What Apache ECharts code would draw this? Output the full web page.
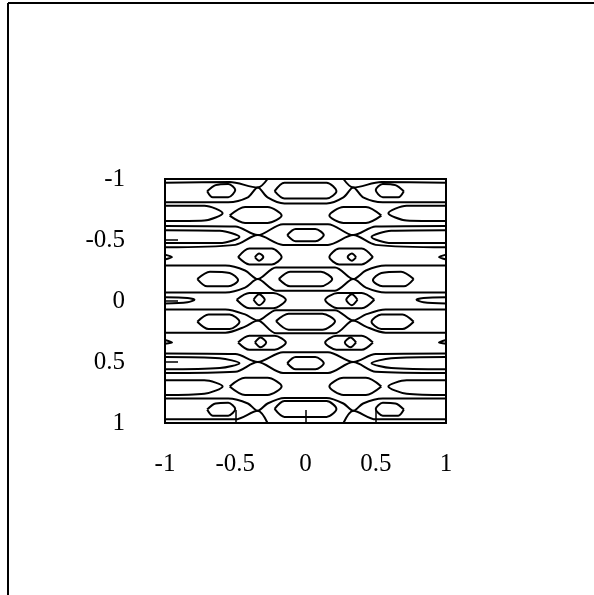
<!DOCTYPE html>
<html><head><meta charset="utf-8">
<script src="https://cdn.jsdelivr.net/npm/echarts@6/dist/echarts.min.js"></script>
<style>html,body{margin:0;padding:0;background:#fff}#c{width:594px;height:595px}</style>
</head><body><div id="c"></div>
<script>
const xTicks = [-1, -0.5, 0, 0.5, 1];
const yTicks = [-1, -0.5, 0, 0.5, 1];
// contour polylines, [x, y] in data units (y grows downward)
const row1Lines = [
  [[-1,-0.97],[-0.54,-0.975],[-0.34,-0.93],[-0.27,-1.0]],
  [[0.27,-1.0],[0.34,-0.93],[0.54,-0.975],[1,-0.97]],
  [[-1,-0.81],[-0.55,-0.81],[-0.41,-0.85],[-0.34,-0.93],[-0.27,-0.85],[-0.15,-0.80],[0.15,-0.80],[0.27,-0.85],[0.34,-0.93],[0.41,-0.85],[0.55,-0.81],[1,-0.81]],
  [[-0.22,-0.90],[-0.15,-0.97],[0.15,-0.97],[0.22,-0.90],[0.15,-0.84],[-0.15,-0.84],[-0.22,-0.90]],
  [[-0.70,-0.90],[-0.64,-0.95],[-0.55,-0.96],[-0.50,-0.91],[-0.55,-0.85],[-0.66,-0.85],[-0.70,-0.90]],
  [[0.70,-0.90],[0.64,-0.95],[0.55,-0.96],[0.50,-0.91],[0.55,-0.85],[0.66,-0.85],[0.70,-0.90]]
];
const row2Lines = [
  [[-1,-0.78],[-0.72,-0.78],[-0.59,-0.72],[-0.72,-0.66],[-1,-0.655]],
  [[1,-0.78],[0.72,-0.78],[0.59,-0.72],[0.72,-0.66],[1,-0.655]],
  [[-0.54,-0.70],[-0.43,-0.77],[-0.27,-0.77],[-0.17,-0.70],[-0.27,-0.64],[-0.43,-0.64],[-0.54,-0.70]],
  [[0.54,-0.70],[0.43,-0.77],[0.27,-0.77],[0.17,-0.70],[0.27,-0.64],[0.43,-0.64],[0.54,-0.70]]
];
const row3Lines = [
  [[-1,-0.615],[-0.50,-0.61],[-0.34,-0.54],[-0.16,-0.63],[0.16,-0.63],[0.34,-0.54],[0.50,-0.61],[1,-0.615]],
  [[-1,-0.44],[-0.50,-0.46],[-0.34,-0.54],[-0.16,-0.46],[0.16,-0.46],[0.34,-0.54],[0.50,-0.46],[1,-0.44]],
  [[-0.13,-0.54],[-0.07,-0.59],[0.07,-0.59],[0.13,-0.54],[0.07,-0.49],[-0.07,-0.49],[-0.13,-0.54]],
  [[-1,-0.58],[-0.61,-0.575],[-0.47,-0.525],[-0.61,-0.475],[-1,-0.475]],
  [[1,-0.58],[0.61,-0.575],[0.47,-0.525],[0.61,-0.475],[1,-0.475]]
];
const row4Lines = [
  [[-1,-0.38],[-0.95,-0.36],[-1,-0.34]],
  [[1,-0.38],[0.95,-0.36],[1,-0.34]],
  [[-0.48,-0.36],[-0.40,-0.43],[-0.24,-0.43],[-0.17,-0.36],[-0.24,-0.30],[-0.40,-0.30],[-0.48,-0.36]],
  [[0.48,-0.36],[0.40,-0.43],[0.24,-0.43],[0.17,-0.36],[0.24,-0.30],[0.40,-0.30],[0.48,-0.36]],
  [[-0.36,-0.36],[-0.33,-0.39],[-0.30,-0.36],[-0.33,-0.33],[-0.36,-0.36]],
  [[0.36,-0.36],[0.33,-0.39],[0.30,-0.36],[0.33,-0.33],[0.36,-0.36]]
];
const row5Lines = [
  [[-1,-0.29],[-0.57,-0.29],[-0.43,-0.25],[-0.34,-0.18],[-0.21,-0.275],[0.21,-0.275],[0.34,-0.18],[0.43,-0.25],[0.57,-0.29],[1,-0.29]],
  [[-1,-0.07],[-0.57,-0.07],[-0.43,-0.11],[-0.34,-0.18],[-0.21,-0.085],[0.21,-0.085],[0.34,-0.18],[0.43,-0.11],[0.57,-0.07],[1,-0.07]],
  [[-0.19,-0.18],[-0.11,-0.24],[0.11,-0.24],[0.19,-0.18],[0.11,-0.12],[-0.11,-0.12],[-0.19,-0.18]],
  [[-0.77,-0.18],[-0.68,-0.24],[-0.54,-0.23],[-0.48,-0.17],[-0.55,-0.12],[-0.70,-0.12],[-0.77,-0.18]],
  [[0.77,-0.18],[0.68,-0.24],[0.54,-0.23],[0.48,-0.17],[0.55,-0.12],[0.70,-0.12],[0.77,-0.18]]
];
const row6Lines = [
  [[-1,-0.03],[-0.84,-0.025],[-0.79,-0.01],[-0.84,0.01],[-1,0.02]],
  [[1,-0.03],[0.84,-0.025],[0.79,-0.01],[0.84,0.01],[1,0.02]],
  [[-0.49,-0.01],[-0.40,-0.065],[-0.23,-0.065],[-0.14,-0.01],[-0.23,0.06],[-0.40,0.06],[-0.49,-0.01]],
  [[0.49,-0.01],[0.40,-0.065],[0.23,-0.065],[0.14,-0.01],[0.23,0.06],[0.40,0.06],[0.49,-0.01]],
  [[-0.37,-0.01],[-0.33,-0.055],[-0.29,-0.01],[-0.33,0.035],[-0.37,-0.01]],
  [[0.37,-0.01],[0.33,-0.055],[0.29,-0.01],[0.33,0.035],[0.37,-0.01]]
];
const row7Lines = [
  [[-1,0.07],[-0.57,0.07],[-0.43,0.11],[-0.34,0.16],[-0.21,0.075],[0.21,0.075],[0.34,0.16],[0.43,0.11],[0.57,0.07],[1,0.07]],
  [[-1,0.26],[-0.57,0.26],[-0.43,0.21],[-0.34,0.16],[-0.21,0.265],[0.21,0.265],[0.34,0.16],[0.43,0.21],[0.57,0.26],[1,0.26]],
  [[-0.21,0.165],[-0.12,0.105],[0.12,0.105],[0.21,0.165],[0.12,0.235],[-0.12,0.235],[-0.21,0.165]],
  [[-0.77,0.17],[-0.69,0.11],[-0.54,0.11],[-0.47,0.17],[-0.54,0.23],[-0.69,0.23],[-0.77,0.17]],
  [[0.77,0.17],[0.69,0.11],[0.54,0.11],[0.47,0.17],[0.54,0.23],[0.69,0.23],[0.77,0.17]]
];
const row8Lines = [
  [[-1,0.32],[-0.95,0.34],[-1,0.35]],
  [[1,0.32],[0.95,0.34],[1,0.35]],
  [[-0.48,0.34],[-0.40,0.285],[-0.22,0.285],[-0.14,0.34],[-0.22,0.40],[-0.40,0.40],[-0.48,0.34]],
  [[0.48,0.34],[0.40,0.285],[0.22,0.285],[0.14,0.34],[0.22,0.40],[0.40,0.40],[0.48,0.34]],
  [[-0.36,0.34],[-0.32,0.30],[-0.28,0.34],[-0.32,0.38],[-0.36,0.34]],
  [[0.36,0.34],[0.32,0.30],[0.28,0.34],[0.32,0.38],[0.36,0.34]]
];
const row9Lines = [
  [[-1,0.43],[-0.50,0.435],[-0.34,0.50],[-0.16,0.42],[0.16,0.42],[0.34,0.50],[0.50,0.435],[1,0.43]],
  [[-1,0.59],[-0.50,0.58],[-0.34,0.50],[-0.16,0.59],[0.16,0.59],[0.34,0.50],[0.50,0.58],[1,0.59]],
  [[-0.13,0.51],[-0.07,0.46],[0.07,0.46],[0.13,0.51],[0.07,0.56],[-0.07,0.56],[-0.13,0.51]],
  [[-1,0.46],[-0.61,0.47],[-0.47,0.51],[-0.61,0.55],[-1,0.56]],
  [[1,0.46],[0.61,0.47],[0.47,0.51],[0.61,0.55],[1,0.56]]
];
const row10Lines = [
  [[-1,0.65],[-0.72,0.65],[-0.59,0.70],[-0.72,0.76],[-1,0.77]],
  [[1,0.65],[0.72,0.65],[0.59,0.70],[0.72,0.76],[1,0.77]],
  [[-0.54,0.70],[-0.43,0.63],[-0.27,0.63],[-0.17,0.70],[-0.27,0.77],[-0.43,0.77],[-0.54,0.70]],
  [[0.54,0.70],[0.43,0.63],[0.27,0.63],[0.17,0.70],[0.27,0.77],[0.43,0.77],[0.54,0.70]]
];
const row11Lines = [
  [[-1,0.80],[-0.55,0.80],[-0.41,0.84],[-0.34,0.90],[-0.27,0.84],[-0.15,0.795],[0.15,0.795],[0.27,0.84],[0.34,0.90],[0.41,0.84],[0.55,0.80],[1,0.80]],
  [[-1,0.97],[-0.50,0.97],[-0.34,0.90],[-0.27,1.0]],
  [[0.27,1.0],[0.34,0.90],[0.50,0.97],[1,0.97]],
  [[-0.22,0.885],[-0.15,0.82],[0.15,0.82],[0.22,0.885],[0.15,0.95],[-0.15,0.95],[-0.22,0.885]],
  [[-0.70,0.89],[-0.64,0.84],[-0.55,0.835],[-0.50,0.885],[-0.55,0.94],[-0.66,0.94],[-0.70,0.89]],
  [[0.70,0.89],[0.64,0.84],[0.55,0.835],[0.50,0.885],[0.55,0.94],[0.66,0.94],[0.70,0.89]]
];
const allLines = [].concat(row1Lines, row2Lines, row3Lines, row4Lines, row5Lines, row6Lines,
  row7Lines, row8Lines, row9Lines, row10Lines, row11Lines);
const chart = echarts.init(document.getElementById('c'));
const font = 'Liberation Serif';
const tickStyle = {show: true, inside: true, length: 13, lineStyle: {color: '#000', width: 1.5}};
chart.setOption({
  animation: false,
  grid: {left: 165, top: 179, width: 281, height: 244, show: true, borderColor: '#000', borderWidth: 2},
  xAxis: {type: 'value', min: -1, max: 1, interval: 0.5, position: 'bottom',
    axisLine: {show: false, onZero: false}, splitLine: {show: false},
    axisTick: tickStyle,
    axisLabel: {color: '#000', fontFamily: font, fontSize: 25, margin: 29, formatter: v => String(v)}},
  yAxis: {type: 'value', min: -1, max: 1, interval: 0.5, inverse: true, position: 'left',
    axisLine: {show: false, onZero: false}, splitLine: {show: false},
    axisTick: tickStyle,
    axisLabel: {color: '#000', fontFamily: font, fontSize: 25, margin: 40, formatter: v => String(v)}},
  graphic: [
    {type: 'line', shape: {x1: 8, y1: 3, x2: 8, y2: 595}, style: {stroke: '#000', lineWidth: 2}},
    {type: 'line', shape: {x1: 8, y1: 3, x2: 594, y2: 3}, style: {stroke: '#000', lineWidth: 2}}
  ],
  series: allLines.map(pts => ({type: 'line', data: pts, showSymbol: false, smooth: 0.3,
    lineStyle: {color: '#000', width: 2}, clip: true, silent: true}))
});
</script></body></html>
